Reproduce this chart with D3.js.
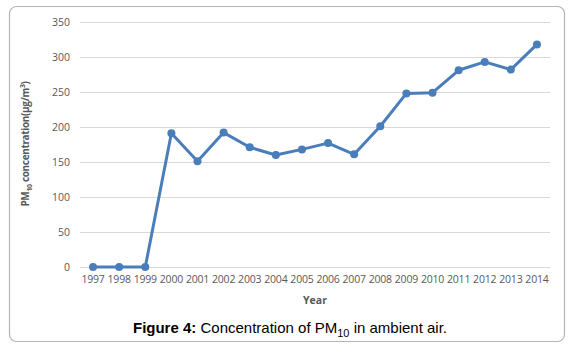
<!DOCTYPE html>
<html>
<head>
<meta charset="utf-8">
<script src="https://cdn.jsdelivr.net/npm/d3@7"></script>
<style>
  body { margin: 0; background: #fff; }
  svg { display: block; }
</style>
</head>
<body>
<div id="chart"></div>
<script>
// data
const years = ["1997","1998","1999","2000","2001","2002","2003","2004","2005",
               "2006","2007","2008","2009","2010","2011","2012","2013","2014"];
const pm10 = [0, 0, 0, 191, 151, 192, 171, 160, 168, 177, 161, 201, 248, 249, 281, 293, 282, 318];
const yTicks = [0, 50, 100, 150, 200, 250, 300, 350];

const W = 573, H = 354;
const svg = d3.select("#chart").append("svg")
  .attr("width", W)
  .attr("height", H);

// outer frame
svg.append("rect")
  .attr("x", 9.5).attr("y", 6.5)
  .attr("width", 555).attr("height", 335)
  .attr("rx", 7).attr("ry", 7)
  .attr("fill", "#fff")
  .attr("stroke", "#b4b4b4")
  .attr("stroke-width", 1.2);

const x = d3.scaleBand(years, [80, 550]);
const y = d3.scaleLinear([0, 350], [267, 22]);

// gridlines
svg.append("g")
  .selectAll("line")
  .data(yTicks)
  .enter()
  .append("line")
  .attr("x1", 80).attr("x2", 550)
  .attr("y1", d => y(d) + 0.5).attr("y2", d => y(d) + 0.5)
  .attr("stroke", "#d9d9d9")
  .attr("stroke-width", 1);

// y axis labels
const yAxis = svg.append("g")
  .attr("transform", "translate(80,0)")
  .call(d3.axisLeft(y).tickValues(yTicks).tickSize(0).tickPadding(10));
yAxis.select(".domain").remove();
yAxis.selectAll("text")
  .style("font-family", "'Open Sans', sans-serif")
  .style("font-size", "10.5px")
  .style("fill", "#595959");

// x axis labels
const xAxis = svg.append("g")
  .attr("transform", "translate(0,267)")
  .call(d3.axisBottom(x).tickSize(0).tickPadding(9));
xAxis.select(".domain").remove();
xAxis.selectAll("text")
  .style("font-family", "'Open Sans', sans-serif")
  .style("font-size", "10.5px")
  .style("letter-spacing", "-0.2px")
  .style("fill", "#595959");

// line
const cx = (d, i) => x(years[i]) + x.bandwidth() / 2;
svg.append("path")
  .datum(pm10)
  .attr("fill", "none")
  .attr("stroke", "#4a7ebb")
  .attr("stroke-width", 3)
  .attr("stroke-linejoin", "round")
  .attr("d", d3.line().x(cx).y(d => y(d)));

svg.selectAll(".dot")
  .data(pm10)
  .enter()
  .append("circle")
  .attr("class", "dot")
  .attr("cx", cx)
  .attr("cy", d => y(d))
  .attr("r", 4)
  .attr("fill", "#4a7ebb");

// axis titles
svg.append("text")
  .attr("x", 315).attr("y", 304)
  .attr("text-anchor", "middle")
  .style("font-family", "'Open Sans', sans-serif")
  .style("font-size", "10.5px")
  .style("font-weight", "bold")
  .style("fill", "#595959")
  .text("Year");

const yt = svg.append("text")
  .attr("transform", "translate(29,144) rotate(-90)")
  .attr("text-anchor", "middle")
  .style("font-family", "'Open Sans', sans-serif")
  .style("font-size", "10px")
  .style("letter-spacing", "-0.35px")
  .style("font-weight", "bold")
  .style("fill", "#595959");
yt.append("tspan").text("PM");
yt.append("tspan").attr("dy", 3).style("font-size", "7px").text("10");
yt.append("tspan").attr("dy", -3).text(" concentration(µg/m");
yt.append("tspan").attr("dy", -4).style("font-size", "7px").text("3");
yt.append("tspan").attr("dy", 4).text(")");

// caption
const cap = svg.append("text")
  .attr("x", 290).attr("y", 333)
  .attr("text-anchor", "middle")
  .style("font-family", "'Liberation Sans', Arial, sans-serif")
  .style("font-size", "15px")
  .style("fill", "#000");
cap.append("tspan").style("font-weight", "bold").text("Figure 4:");
cap.append("tspan").text(" Concentration of PM");
cap.append("tspan").attr("dy", 4).style("font-size", "11px").text("10");
cap.append("tspan").attr("dy", -4).text(" in ambient air.");
</script>
</body>
</html>
